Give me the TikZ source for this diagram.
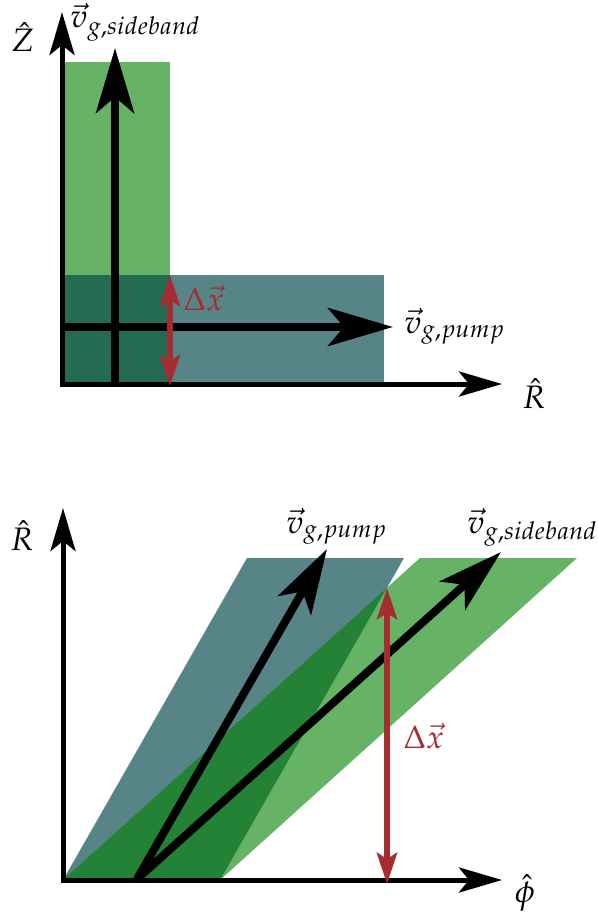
\documentclass[tikz,border=0pt]{standalone}
\usepackage{mathpazo}
\usetikzlibrary{arrows.meta}
\definecolor{BandGreen}{RGB}{0,128,0}
\definecolor{PumpTeal}{RGB}{0,70,73}
\definecolor{ShiftRed}{RGB}{165,45,50}
\tikzset{
  axis/.style={line width=0.1cm,line cap=rect,
    -{Stealth[length=0.86cm,width=0.5cm,inset=0.2cm]}},
  group/.style={line width=0.16cm,
    -{Stealth[length=1.3cm,width=0.76cm,inset=0.32cm]}},
  deltaarrow/.style={line width=0.13cm,ShiftRed,
    {Stealth[length=0.62cm,width=0.4cm,inset=0.12cm]}-{Stealth[length=0.62cm,width=0.4cm,inset=0.12cm]}},
  sideband/.style={fill=BandGreen,fill opacity=0.6},
  pump/.style={fill=PumpTeal,fill opacity=0.66},
  lbl/.style={font=\fontsize{18.5}{22}\selectfont,inner sep=0pt},
  deltalbl/.style={lbl,text=ShiftRed}
}
\begin{document}
\begin{tikzpicture}[x=0.02cm,y=-0.02cm]
  \useasboundingbox (0,0) rectangle (598,916);

  \coordinate (o1) at (62,384);
  \coordinate (z1) at (62,12);
  \coordinate (r1) at (502,384);
  \coordinate (sb1) at (115,384);
  \coordinate (sb1tip) at (115,48);
  \coordinate (pp1) at (62,327);
  \coordinate (pp1tip) at (393,327);
  \coordinate (dx1top) at (170,275);
  \coordinate (dx1bot) at (170,386);

  \fill[sideband] (62,62) rectangle (170,384);
  \fill[pump] (62,275) rectangle (384,384);
  \draw[group] (sb1) -- (sb1tip);
  \draw[group] (pp1) -- (pp1tip);
  \draw[axis] (o1) -- (z1);
  \draw[axis] (o1) -- (r1);
  \draw[deltaarrow] (dx1top) -- (dx1bot);

  \node[lbl] (zhat) at (23,37) {$\hat{Z}$};
  \node[lbl,anchor=base west] (vsb1) at (70,28) {$\vec{v}_{g,sideband}$};
  \node[lbl,anchor=base west] (vpp1) at (404,333) {$\vec{v}_{g,pump}$};
  \node[lbl,anchor=base west] (rhat1) at (522,408) {$\hat{R}$};
  \node[deltalbl,anchor=base west] (dx1) at (183,310) {$\Delta\vec{x}$};

  \coordinate (o2) at (63,880);
  \coordinate (r2) at (63,508);
  \coordinate (phi2) at (502,880);
  \coordinate (v2) at (137,879);
  \coordinate (pp2tip) at (327,549);
  \coordinate (sb2tip) at (501,552);
  \coordinate (dx2top) at (387,588);
  \coordinate (dx2bot) at (387,884);

  \fill[pump] (63,880) -- (247,558) -- (404,558) -- (220,880) -- cycle;
  \fill[sideband] (63,880) -- (420,558) -- (577,558) -- (220,880) -- cycle;
  \draw[group] (v2) -- (pp2tip);
  \draw[group] (v2) -- (sb2tip);
  \draw[axis] (o2) -- (r2);
  \draw[axis] (o2) -- (phi2);
  \draw[deltaarrow] (dx2top) -- (dx2bot);

  \node[lbl,anchor=base west] (rhat2) at (10,550) {$\hat{R}$};
  \node[lbl,anchor=base west] (vpp2) at (286,533) {$\vec{v}_{g,pump}$};
  \node[lbl,anchor=base west] (vsb2) at (467,533) {$\vec{v}_{g,sideband}$};
  \node[deltalbl,anchor=base west] (dx2) at (403,748) {$\Delta\vec{x}$};
  \node[lbl] (phihat) at (525,893) {$\hat{\phi}$};
\end{tikzpicture}
\end{document}
